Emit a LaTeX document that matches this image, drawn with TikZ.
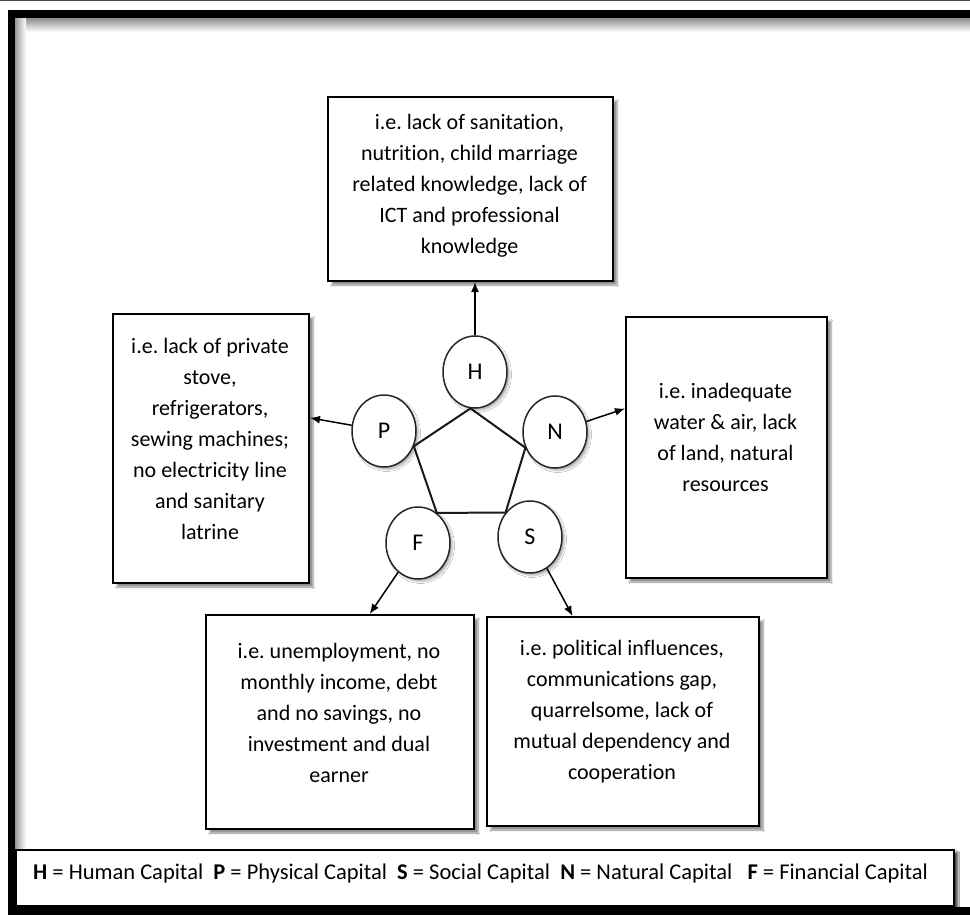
\documentclass[tikz,border=0pt]{standalone}
\usepackage{fontspec}
\setmainfont[Ligatures=NoCommon]{Carlito}
\usetikzlibrary{arrows.meta,shapes.geometric,shadows.blur,calc}
\frenchspacing

\begin{document}
\begin{tikzpicture}[x=1pt,y=-1pt,
  capbox/.style={draw=black, line width=2pt, fill=white, inner sep=0pt, anchor=north west,
    blur shadow={shadow xshift=4pt, shadow yshift=-4pt, shadow blur steps=6, shadow opacity=45}},
  captext/.style={align=center, font=\fontsize{22}{31}\selectfont, inner sep=0pt},
  ring/.style={ellipse, draw=black!85, line width=1.5pt, fill=white, minimum width=64pt,
    minimum height=72pt, inner sep=0pt, font=\fontsize{24}{28}\selectfont,
    blur shadow={shadow xshift=2.5pt, shadow yshift=-2.5pt, shadow blur steps=4, shadow opacity=30}},
  arr/.style={-{Latex[length=10pt,width=8pt]}, line width=1.5pt},
  penta/.style={line width=2pt, black!90}
]
\useasboundingbox (0,0) rectangle (970,915);
\fill[white] (0,0) rectangle (970,915);

% outer frame with its inner shading
\draw[black!70, line width=1pt] (0,0.5) -- (970,0.5);
\shade[top color=black!45, bottom color=white] (15,18) rectangle (970,32);
\shade[left color=black!40, right color=white] (15,18) rectangle (26,849);
\fill[black] (8,10) rectangle (970,18);
\fill[black] (8,10) rectangle (15,915);
\fill[black] (8,907) rectangle (970,915);

% the five capital boxes
\node[capbox, minimum width=285pt, minimum height=184pt] (hbox) at (327,96) {};
\node[capbox, minimum width=196pt, minimum height=269pt] (pbox) at (112,313) {};
\node[capbox, minimum width=201pt, minimum height=261pt] (nbox) at (625,316) {};
\node[capbox, minimum width=268pt, minimum height=214pt] (fbox) at (205,614) {};
\node[capbox, minimum width=272pt, minimum height=209pt] (sbox) at (486,616) {};

\node[captext] (htext) at (469.5,186) {i.e. lack of sanitation,\\nutrition, child marriage\\related knowledge, lack of\\ICT and professional\\knowledge};
\node[captext] (ptext) at (210,439) {i.e. lack of private\\stove,\\refrigerators,\\sewing machines;\\no electricity line\\and sanitary\\latrine};
\node[captext] (ntext) at (725.5,437) {i.e. inadequate\\water \& air, lack\\of land, natural\\resources};
\node[captext] (ftext) at (339,713) {i.e. unemployment, no\\monthly income, debt\\and no savings, no\\investment and dual\\earner};
\node[captext] (stext) at (622,712) {i.e. political influences,\\communications gap,\\quarrelsome, lack of\\mutual dependency and\\cooperation};

% capital circles
\node[ring] (H) at (475,372) {H};
\node[ring] (P) at (384,431) {P};
\node[ring] (N) at (555,432) {N};
\node[ring] (S) at (530,537) {S};
\node[ring] (F) at (418,543) {F};

% pentagon joining the circles
\draw[penta] (H.263) -- (P.-27);
\draw[penta] (H.263) -- (N.208);
\draw[penta] (P.-27) -- (F.58);
\draw[penta] (N.208) -- (S.135);
\draw[penta] (F.58) -- (S.135);

% arrows to the boxes
\draw[arr] (H.north) -- (H.north |- hbox.south);
\draw[arr] (P) -- ($(pbox.north east)!0.387!(pbox.south east)$);
\draw[arr] (N) -- ($(nbox.north west)!0.352!(nbox.south west)$);
\draw[arr] (F) -- ($(fbox.north west)!0.61!(fbox.north east)$);
\draw[arr] (S) -- ($(sbox.north west)!0.316!(sbox.north east)$);

% legend
\node[capbox, line width=1.5pt, minimum width=938pt, minimum height=56pt,
  blur shadow={shadow xshift=4pt, shadow yshift=-3pt, shadow blur steps=6, shadow opacity=45}] (legend) at (15,849) {};
\node[anchor=west, inner sep=0pt, font=\fontsize{22.5}{26}\selectfont] (legtext) at (33,873)
  {\textbf{H} = Human Capital\ \ \textbf{P} = Physical Capital\ \ \textbf{S} = Social Capital\ \ \textbf{N} = Natural Capital\ \ \ \textbf{F} = Financial Capital};
\end{tikzpicture}
\end{document}
